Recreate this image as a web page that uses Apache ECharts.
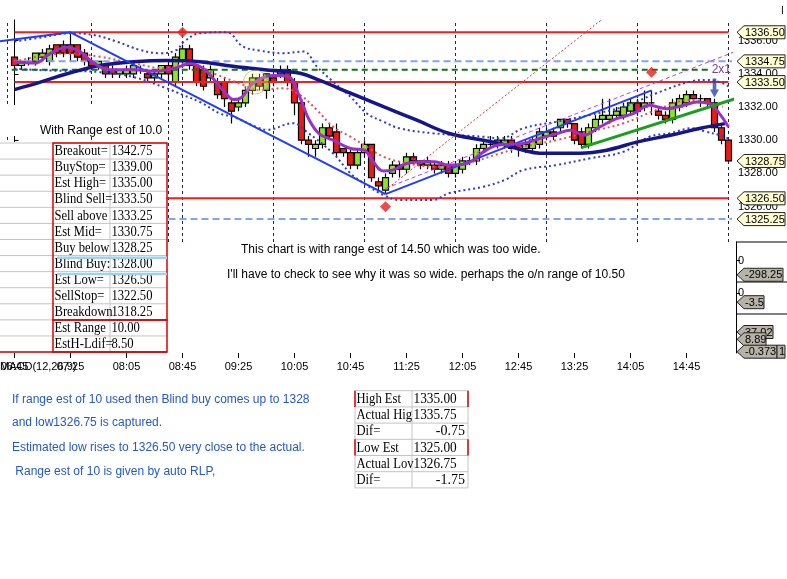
<!DOCTYPE html>
<html><head><meta charset="utf-8"><title>chart</title>
<script src="https://cdn.jsdelivr.net/npm/echarts@6.0.0/dist/echarts.min.js"></script>
<style>html,body{margin:0;padding:0;background:#fff;overflow:hidden}#c{width:787px;height:579px}</style>
</head><body><div id="c"></div>
<script>
const SANS = 'Liberation Sans, Arial, Helvetica, sans-serif';
const SERIF = 'Liberation Serif, Times New Roman, serif';

// ---------- data ----------
const tickLabels = ['06:45','07:25','08:05','08:45','09:25','10:05','10:45','11:25','12:05','12:45','13:25','14:05','14:45'];
const categories = [];
(function(){ let m = 6*60+35; for (let i=0;i<105;i++){ const h=Math.floor(m/60), mm=m%60; categories.push((h<10?'0':'')+h+':'+(mm<10?'0':'')+mm); m+=5; } })();

// [open, close, low, high], 5-minute bars from 06:45
const ohlc = [
[1335.00,1334.50,1334.25,1335.00],[1334.50,1334.75,1334.25,1334.75],[1334.75,1334.75,1334.50,1335.00],[1334.75,1335.25,1334.50,1335.25],
[1335.00,1335.25,1334.75,1335.50],[1334.75,1335.50,1334.50,1335.75],[1335.75,1335.25,1335.00,1335.75],[1335.75,1335.25,1335.00,1336.00],
[1335.75,1335.25,1334.75,1336.50],[1335.75,1335.00,1334.75,1335.75],[1335.25,1334.75,1334.50,1335.50],[1334.75,1334.50,1334.25,1335.00],
[1334.50,1334.75,1334.25,1334.75],[1334.50,1334.00,1333.75,1334.50],[1334.25,1334.00,1333.75,1334.50],[1334.00,1334.25,1333.75,1334.25],
[1334.00,1334.25,1333.75,1334.50],[1334.00,1334.50,1333.75,1334.75],[1334.25,1334.25,1334.00,1334.50],[1334.00,1333.75,1333.50,1334.25],
[1333.75,1334.00,1333.50,1334.25],[1334.00,1334.50,1333.75,1334.50],[1334.50,1334.00,1333.50,1334.75],[1333.50,1335.00,1333.25,1335.25],
[1334.75,1335.50,1334.50,1335.75],[1335.50,1334.50,1334.25,1335.75],[1334.50,1333.50,1333.25,1334.50],[1334.25,1333.25,1333.00,1334.50],
[1333.75,1334.25,1333.50,1334.50],[1333.50,1332.75,1332.50,1333.75],[1333.50,1332.50,1332.00,1333.75],[1332.25,1331.75,1331.00,1332.50],
[1332.00,1332.25,1331.75,1332.50],[1332.25,1333.00,1332.00,1333.25],[1333.00,1333.75,1332.75,1334.00],[1333.75,1333.25,1333.00,1334.00],
[1333.00,1334.00,1332.50,1334.00],[1333.75,1333.50,1333.25,1334.00],[1334.00,1334.25,1333.75,1334.50],[1334.25,1333.50,1333.25,1334.50],
[1333.50,1332.25,1331.50,1333.75],[1332.25,1330.00,1329.75,1332.50],[1330.00,1329.75,1329.00,1330.25],[1329.50,1329.75,1329.00,1330.00],
[1329.75,1330.75,1329.50,1331.00],[1330.75,1330.25,1330.00,1331.00],[1330.50,1329.25,1329.00,1331.00],[1329.50,1329.25,1329.00,1329.50],
[1329.25,1328.50,1328.25,1329.50],[1328.50,1329.25,1328.25,1329.50],[1329.25,1329.75,1329.00,1330.00],[1329.75,1327.75,1327.50,1329.75],
[1327.50,1327.25,1327.00,1327.75],[1327.00,1327.75,1326.75,1328.00],[1328.00,1328.50,1327.75,1328.75],[1328.50,1328.25,1327.75,1328.75],
[1328.25,1329.00,1328.00,1329.25],[1329.00,1328.75,1328.50,1329.25],[1328.75,1328.50,1328.25,1328.75],[1328.50,1328.75,1328.25,1329.00],
[1328.50,1328.25,1328.00,1328.75],[1328.25,1328.50,1328.00,1328.75],[1328.50,1328.00,1327.75,1328.75],[1328.00,1328.50,1327.75,1328.75],
[1328.25,1328.75,1328.00,1329.00],[1328.75,1328.75,1328.50,1329.00],[1328.75,1329.50,1328.50,1329.75],[1329.50,1329.75,1329.25,1330.00],
[1329.75,1329.75,1329.50,1330.25],[1329.75,1330.00,1329.50,1330.25],[1329.75,1330.00,1329.50,1330.25],[1330.00,1329.50,1329.25,1330.25],
[1329.75,1329.50,1329.00,1329.75],[1329.50,1329.75,1329.25,1330.00],[1329.50,1330.00,1329.25,1330.25],[1329.75,1330.50,1329.50,1330.75],
[1330.25,1330.50,1330.00,1330.75],[1330.50,1330.25,1330.00,1330.75],[1330.75,1331.25,1330.50,1331.25],[1331.25,1331.00,1330.75,1331.25],
[1331.00,1330.00,1329.75,1331.00],[1330.50,1329.75,1329.50,1330.75],[1329.75,1330.75,1329.50,1331.00],[1330.75,1331.25,1330.50,1331.50],
[1331.25,1331.50,1331.00,1332.50],[1331.25,1331.50,1331.00,1332.50],[1331.50,1331.75,1331.25,1332.00],[1331.50,1332.00,1331.25,1332.25],
[1331.75,1332.25,1331.50,1332.50],[1332.25,1331.75,1331.50,1332.50],[1332.00,1332.25,1331.75,1333.00],[1332.25,1332.25,1331.50,1333.00],
[1331.75,1331.50,1331.25,1332.00],[1331.50,1331.25,1331.00,1331.75],[1331.25,1332.25,1331.00,1332.50],[1332.00,1332.50,1331.75,1332.75],
[1332.25,1332.75,1332.00,1333.00],[1332.75,1332.50,1332.25,1333.00],[1332.50,1332.50,1332.00,1332.75],[1332.50,1332.25,1332.00,1332.50],
[1332.25,1330.75,1330.50,1332.50],[1330.75,1330.00,1329.75,1331.00],[1330.00,1328.75,1328.75,1330.00]
];

// indicator lines: [bar index, price]
const maPurple = [[0,1334.7],[3,1334.65],[5,1335.2],[7.5,1335.6],[9.5,1335.3],[11,1334.75],[13.5,1334.25],[17,1334.25],[20,1334.15],[23,1334.35],[25,1334.6],[27,1334.3],[29,1333.4],[30,1332.9],[31.3,1332.45],[32.5,1332.6],[34,1333.4],[37,1333.9],[39,1333.85],[40.8,1332.55],[42,1331.3],[43.5,1330.4],[45.5,1330.0],[48,1329.5],[50,1329.4],[51,1328.85],[52.7,1328.15],[54,1328.2],[56,1328.6],[58.4,1328.7],[60,1328.7],[62,1328.5],[64.6,1328.6],[67,1329.3],[69,1329.7],[72.7,1329.8],[75,1330.1],[77.5,1330.4],[79.4,1330.6],[81.3,1330.3],[83.6,1330.8],[86,1331.3],[88.4,1331.6],[90.7,1332.1],[93.2,1331.9],[95.6,1332.1],[97.5,1332.3],[99.3,1332.2],[100.7,1331.6],[102,1330.8]];
const maNavy = [[0,1333.05],[3.7,1333.5],[7.5,1334.0],[12.2,1334.5],[17,1334.72],[21.7,1334.8],[26.5,1334.73],[31.2,1334.45],[36,1334.23],[40.8,1334.03],[43.6,1333.6],[48,1332.83],[52.7,1332.02],[57.4,1331.22],[62,1330.42],[67,1330.0],[69.3,1329.8],[72.7,1329.4],[75,1329.22],[80.8,1329.22],[84.6,1329.4],[89,1329.9],[93.7,1330.3],[98,1330.72],[101.5,1331.0]];
const bandUpper = [[0,1335.94],[4,1336.2],[7.9,1336.44],[11.3,1336.34],[14.6,1335.94],[17.9,1335.44],[20.8,1335.24],[23.2,1335.44],[24.1,1335.9],[26.5,1336.44],[30.3,1336.5],[32.6,1335.65],[35,1335.4],[38.4,1335.24],[41.3,1335.34],[43.2,1334.43],[45.5,1333.53],[48,1332.62],[50.3,1331.62],[52.7,1331.12],[55,1330.72],[59.8,1330.42],[67,1330.21],[69.4,1330.11],[72.7,1330.72],[77.5,1331.12],[82.2,1331.52],[87,1332.02],[91.7,1332.83],[96.5,1333.53],[98.9,1333.63],[101.2,1333.43],[102,1333.23]];
const bandLower = [[0,1334.3],[5,1334.2],[12.2,1334.1],[17,1333.8],[21.7,1333.13],[24.1,1332.72],[26.5,1332.3],[29.4,1331.6],[31.3,1331.4],[35,1330.72],[36,1330.62],[39.8,1331.02],[41.7,1330.52],[45.5,1329.21],[48,1328.01],[50.3,1327.3],[52.7,1326.7],[55,1326.4],[59.8,1326.4],[62,1326.8],[67,1327.2],[70,1327.6],[72.7,1328.2],[77.5,1328.51],[82.2,1328.91],[87,1329.31],[90.7,1330.21],[93.7,1330.42],[96.8,1330.72],[98.7,1330.52],[100.6,1330.32],[102,1330.11]];
const redDotted = [[0,1334.73],[7.5,1335.23],[12.2,1335.03],[17,1334.63],[21.7,1334.33],[24.6,1334.63],[29,1333.93],[32.7,1333.33],[35,1333.03],[38.4,1333.13],[40.8,1332.72],[43.2,1331.82],[45.5,1330.82],[48,1330.21],[50.3,1329.61],[52.7,1329.01],[55,1328.71],[59.8,1328.41],[64.6,1328.61],[69.4,1329.21],[72.7,1329.61],[77.5,1330.01],[82.2,1330.52],[87,1331.02],[91.7,1331.82],[96.5,1332.42],[101.2,1332.02]];

const trendDown = [[-2.5,1335.93],[8,1336.5],[53,1326.75]];
const trendUp = [[53,1326.75],[91,1333.0]];
const greenTrend = [[81,1329.55],[103,1332.5]];
const redThin = [[53,1327.0],[84,1337.3]];
const purpleThin = [[53,1327.1],[103,1335.35]];

const redLevels = [1336.50, 1333.50, 1326.50];
const blueLevels = [1334.75, 1325.25];
const greenLevel = 1334.25;
const sessionLines = [-1, 11, 22, 24, 37, 50, 63, 76, 89, 102];
const diamonds = [[24,1336.5],[53,1326.0],[91,1334.1]];
const arrowPt = [[100,1333.15]];
const glowPt = [[34.4,1333.5]];

const priceTicks = [1326, 1328, 1330, 1332, 1334, 1336];
const priceTags = [1336.50, 1334.75, 1333.50, 1328.75, 1326.50, 1325.25];
const panelATag = -298.25;
const panelBTag = -3.5;
const panelCTags = ['37.02', '8.89', '-0.373'];

const tableLabels = ['Breakout=','BuyStop=','Est High=','Blind Sell=','Sell above','Est Mid=','Buy below','Blind Buy:','Est Low=','SellStop=','Breakdown','Est Range','EstH-Ldif='];
const tableValues = ['1342.75','1339.00','1335.00','1333.50','1333.25','1330.75','1328.25','1328.00','1326.50','1322.50','1318.25','10.00','8.50'];
const estLabels = ['High Est','Actual Hig','Dif=','Low Est','Actual Lov','Dif='];
const estValues = ['1335.00','1335.75','-0.75','1325.00','1326.75','-1.75'];

const noteLines = ['If range est of 10 used then Blind buy comes up to 1328','and low1326.75 is captured.','Estimated low rises to 1326.50 very close to the actual.',' Range est of 10 is given by auto RLP,'];
const chartNotes = ['This chart is with range est of 14.50 which was too wide.',"I'll have to check to see why it was so wide. perhaps the o/n range of 10.50"];

// ---------- chart ----------
const chart = echarts.init(document.getElementById('c'), null, {renderer:'canvas'});
const tickInt = (i) => i >= 2 && (i - 2) % 8 === 0 && (i - 2) / 8 < tickLabels.length;
const empty4 = ['-','-','-','-'];

function ln(data, color, width, type, smooth, z) {
  return {type:'line', xAxisIndex:1, yAxisIndex:0, data, symbol:'none', silent:true, smooth: smooth || false,
    lineStyle:{color, width, type: type || 'solid'}, z: z || 3};
}

const series = [
  {type:'candlestick', xAxisIndex:0, yAxisIndex:0, barWidth:6, silent:true, z:2,
   data:[empty4, empty4].concat(ohlc),
   itemStyle:{color:'#8ae426', color0:'#ea1a14', borderColor:'#000', borderColor0:'#000', borderWidth:1.2}}
];
// session separators (vertical dashed lines)
series.push({type:'line', xAxisIndex:1, yAxisIndex:0, data:[[-2.5,null]], symbol:'none', silent:true, z:1,
  markLine:{symbol:['none','none'], silent:true, label:{show:false}, z:1,
    lineStyle:{color:'#202070', type:[3,3], width:1},
    data: sessionLines.map(k => ({xAxis: k}))}});
redLevels.forEach(v => series.push(ln([[0,v],[102,v]], '#ff1a1a', 2, 'solid', false, 3)));
blueLevels.forEach(v => series.push(ln([[0,v],[102.5,v]], '#80a4f0', 2, [7,4], false, 3)));
series.push(ln([[-0.4,greenLevel],[99.5,greenLevel]], '#0a7a0a', 2, [6,4], false, 3));
series.push(ln(bandUpper, '#2b3be0', 2, [2,3], 0.4, 4));
series.push(ln(bandLower, '#2b3be0', 2, [2,3], 0.4, 4));
series.push(ln(redDotted, '#e8505a', 2, [2,3], 0.4, 4));
series.push(ln(maNavy, '#16168a', 3.5, 'solid', 0.4, 5));
series.push(ln(maPurple, '#9b30c8', 3, 'solid', 0.4, 6));
series.push(ln(trendDown, '#1f3cff', 2, 'solid', false, 5));
series.push(ln(trendUp, '#1f3cff', 2, 'solid', false, 5));
series.push(ln(redThin, '#ff3030', 1, [2,2], false, 5));
series.push(ln(purpleThin, '#c040d0', 1, [4,3], false, 5));
series.push(ln(greenTrend, '#1e9e1e', 3, 'solid', false, 6));
series.push({type:'scatter', xAxisIndex:1, yAxisIndex:0, data:glowPt, symbol:'circle', symbolSize:24, silent:true, z:7,
  itemStyle:{color:'rgba(255,250,140,0.35)', borderColor:'rgba(160,160,140,0.7)', borderWidth:1}});
series.push({type:'scatter', xAxisIndex:1, yAxisIndex:0, data:diamonds, symbol:'diamond', symbolSize:11, silent:true, z:8,
  itemStyle:{color:'#e81e1e'}});
series.push({type:'scatter', xAxisIndex:1, yAxisIndex:0, data:arrowPt, symbol:'path://M3,0L7,0L7,11L10,11L5,19L0,11L3,11Z', symbolSize:[9,19], silent:true, z:8,
  itemStyle:{color:'#2448b0'}});
series.push({type:'line', xAxisIndex:2, yAxisIndex:1, data:[]});
series.push({type:'line', xAxisIndex:3, yAxisIndex:2, data:[]});
series.push({type:'line', xAxisIndex:4, yAxisIndex:3, data:[]});

const rightAxis = (grid, min, max, vals, fmt) => ({
  type:'value', gridIndex:grid, position:'right', offset:4, min, max,
  splitLine:{show:false},
  axisLine:{show:true, lineStyle:{color:'#000', width:1}},
  axisTick:{show: vals.length > 0, customValues: vals, length:4, lineStyle:{color:'#000'}},
  axisLabel:{show: vals.length > 0, customValues: vals, formatter: fmt, color:'#000', fontSize:11, fontFamily:SANS, margin:2}
});

const gridBase = {left:-3, right:55, outerBoundsMode:'none', containLabel:false};
const option = {
  animation:false,
  backgroundColor:'#ffffff',
  grid:[
    Object.assign({top:20, height:222}, gridBase),
    Object.assign({top:242, height:40}, gridBase),
    Object.assign({top:282, height:32}, gridBase),
    Object.assign({top:314, height:39}, gridBase)
  ],
  xAxis:[
    {type:'category', gridIndex:0, data:categories, show:false},
    {type:'value', gridIndex:0, min:-2.5, max:102.5, show:false},
    {type:'category', gridIndex:1, data:categories, show:false},
    {type:'category', gridIndex:2, data:categories, show:false},
    {type:'category', gridIndex:3, data:categories,
     axisLine:{show:false},
     axisTick:{show:true, alignWithLabel:true, interval:tickInt, length:5, lineStyle:{color:'#000'}},
     axisLabel:{interval:tickInt, formatter:(v, i) => tickLabels[(i - 2) / 8] || '', color:'#000', fontSize:11, fontFamily:SANS, margin:8},
     splitLine:{show:false}}
  ],
  yAxis:[
    rightAxis(0, 1323.87, 1337.24, priceTicks, v => Number(v).toFixed(2)),
    rightAxis(1, -450, 390, [0], v => String(v)),
    rightAxis(2, -8, 4.2, [0], v => String(v)),
    rightAxis(3, 0, 1, [], v => '')
  ],
  series
};
chart.setOption(option);

// ---------- annotations ----------
const g = [];
const Z = 100;
function txt(x, y, text, font, fill, extra, align) {
  return Object.assign({type:'text', x, y, z:Z+2, silent:true,
    style:{text, font, fill: fill || '#000', verticalAlign:'middle', align: align || 'left'}}, extra || {});
}
function hline(x1, x2, y, color, w) { return {type:'line', z:Z+1, silent:true, shape:{x1, y1:y, x2, y2:y}, style:{stroke:color, lineWidth:w || 1}}; }
function vline(x, y1, y2, color, w) { return {type:'line', z:Z+1, silent:true, shape:{x1:x, y1, x2:x, y2}, style:{stroke:color, lineWidth:w || 1}}; }
function tag(y, text, fill, w, zz) {
  return {type:'group', z:zz || Z+5, silent:true, children:[
    {type:'polygon', z:zz || Z+5, shape:{points:[[737,y],[744,y-6.5],[744+w,y-6.5],[744+w,y+6.5],[744,y+6.5]]},
     style:{fill, stroke:'#222', lineWidth:1}},
    {type:'text', z:(zz || Z+5)+1, x:745, y:y+0.5, style:{text, font:'11px ' + SANS, fill:'#000', verticalAlign:'middle'}}
  ]};
}

// "With Range" text box and left table
g.push({type:'rect', z:Z, silent:true, shape:{x:0, y:105, width:166, height:31}, style:{fill:'#fff'}});
g.push(txt(40, 131, 'With Range est of 10.0', '12px ' + SANS));
const T = {x0:0, x1:53, x2:110, x3:167, y0:143, rh:16.08};
g.push({type:'rect', z:Z, silent:true, shape:{x:0, y:T.y0-1, width:T.x3, height:T.rh*13+2}, style:{fill:'#fff'}});
for (let i = 0; i <= 13; i++) g.push(hline(T.x0, T.x3, T.y0 + i*T.rh, '#c4c4c4', 1));
g.push(vline(T.x2, T.y0, T.y0 + 13*T.rh, '#c4c4c4', 1));
g.push({type:'rect', z:Z+3, silent:true, shape:{x:T.x1, y:T.y0, width:T.x3-T.x1, height:11*T.rh}, style:{fill:'none', stroke:'#e00000', lineWidth:1.5}});
g.push({type:'rect', z:Z+3, silent:true, shape:{x:T.x1, y:T.y0+11*T.rh, width:T.x3-T.x1, height:2*T.rh}, style:{fill:'none', stroke:'#e00000', lineWidth:1.5}});
g.push(Object.assign(hline(0, T.x3, T.y0 + 13*T.rh, '#e00000', 1.5), {z:Z+3}));
tableLabels.forEach((t, i) => {
  const yc = T.y0 + (i + 0.5)*T.rh + 0.5;
  g.push(txt(T.x1 + 1.5, yc, t, '14px ' + SERIF, '#000', {scaleX:0.9}));
  g.push(txt(T.x2 + 1.5, yc, tableValues[i], '14px ' + SERIF, '#000', {scaleX:0.9}));
});
g.push(Object.assign(hline(57, 167, 257.7, '#9fd2ef', 2.5), {z:Z+4}));
g.push(Object.assign(hline(57, 167, 274, '#9fd2ef', 2.5), {z:Z+4}));

// bottom estimate table
const B = {x0:355, x1:412, x2:468, y0:390.7, rh:16.2};
for (let i = 0; i <= 6; i++) g.push(hline(B.x0, B.x2, B.y0 + i*B.rh, '#c4c4c4', 1));
g.push(vline(B.x0, B.y0, B.y0 + 6*B.rh, '#c4c4c4', 1));
g.push(vline(B.x1, B.y0, B.y0 + 6*B.rh, '#c4c4c4', 1));
g.push(vline(B.x2, B.y0, B.y0 + 6*B.rh, '#c4c4c4', 1));
[0, 3].forEach(r => {
  g.push(Object.assign(vline(B.x0, B.y0 + r*B.rh, B.y0 + (r+1)*B.rh, '#e00000', 1.5), {z:Z+3}));
  g.push(Object.assign(vline(B.x2, B.y0 + r*B.rh, B.y0 + (r+1)*B.rh, '#e00000', 1.5), {z:Z+3}));
});
estLabels.forEach((t, i) => {
  const yc = B.y0 + (i + 0.5)*B.rh + 0.5;
  g.push(txt(B.x0 + 1.5, yc, t, '14px ' + SERIF, '#000', {scaleX:0.9}));
  if (t === 'Dif=') g.push(txt(B.x2 - 3, yc, estValues[i], '14px ' + SERIF, '#000', {}, 'right'));
  else g.push(txt(B.x1 + 1.5, yc, estValues[i], '14px ' + SERIF, '#000', {scaleX:0.95}));
});

// notes
const noteY = [399.5, 423, 447.5, 471.5];
noteLines.forEach((t, i) => g.push(txt(12, noteY[i], t, '12px ' + SANS, '#2456d8')));
g.push(txt(241, 250, chartNotes[0], '12px ' + SANS));
g.push(txt(227, 275, chartNotes[1], '12px ' + SANS));
g.push(txt(0, 366.5, 'MACD(12,26,9)', '11px ' + SANS));
g.push(txt(781, 11, 'I', '10px ' + SANS));

// 2x1 label at end of green dashed line
const p2x1 = chart.convertToPixel({xAxisIndex:1, yAxisIndex:0}, [99.6, greenLevel]);
g.push(txt(p2x1[0], p2x1[1], '2x1', '12px ' + SANS, '#7b3f9e'));

// separators on right axis
[242, 282, 314].forEach(y => g.push(hline(736, 787, y, '#000', 1)));

// price tags
priceTags.forEach(v => {
  const y = chart.convertToPixel({yAxisIndex:0}, v);
  g.push(tag(y, v.toFixed(2), '#ffffd2', 41));
});
g.push(tag(chart.convertToPixel({yAxisIndex:1}, panelATag), String(panelATag), '#b6b2a6', 39));
g.push(tag(chart.convertToPixel({yAxisIndex:2}, panelBTag), String(panelBTag), '#b6b2a6', 20));
const cTop = 314;
g.push(tag(cTop + 18, panelCTags[0], '#b6b2a6', 29, Z+5));
g.push(tag(cTop + 25.3, panelCTags[1], '#b6b2a6', 22, Z+8));
g.push(tag(cTop + 37.7, panelCTags[2], '#b6b2a6', 33, Z+11));
g.push({type:'rect', z:Z+12, silent:true, shape:{x:777, y:cTop+31.2, width:8, height:13}, style:{fill:'#b6b2a6', stroke:'#222', lineWidth:1}});
g.push({type:'text', z:Z+13, silent:true, x:779, y:cTop+38.2, style:{text:'1', font:'11px ' + SANS, fill:'#000', verticalAlign:'middle'}});

chart.setOption({graphic:{elements:g}});
</script></body></html>
